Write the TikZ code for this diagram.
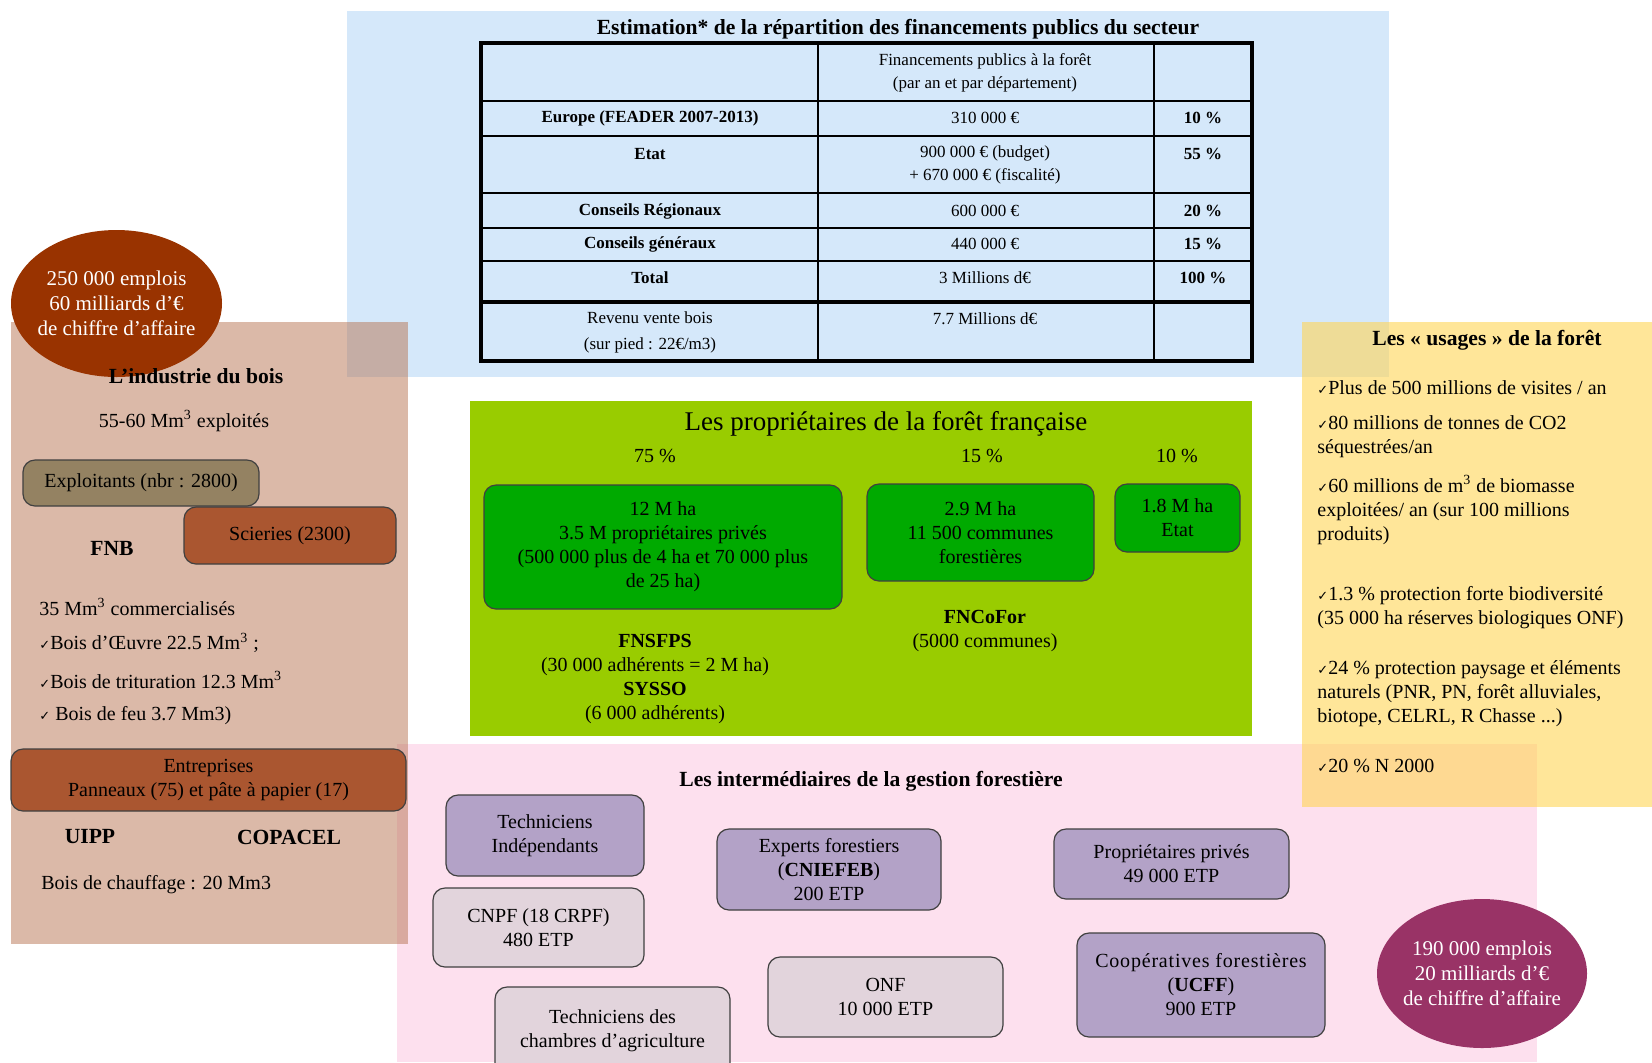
\documentclass[tikz,border=0pt]{standalone}
\usepackage{fontspec}
\setmainfont{Liberation Serif}
\newfontfamily\symfont{DejaVu Sans}
\usetikzlibrary{positioning, shapes.geometric}
\newcommand{\chk}{{\symfont\fontsize{6.5}{6.5}\selectfont ✓}}

\definecolor{fondbleu}{RGB}{213,232,250}
\definecolor{fondrose}{RGB}{253,224,238}
\definecolor{fondvert}{RGB}{153,204,0}
\definecolor{fondbrun}{RGB}{183,115,81}
\definecolor{fondjaune}{RGB}{255,213,85}
\definecolor{vertbox}{RGB}{0,170,0}
\definecolor{violetbox}{RGB}{179,162,199}
\definecolor{grisbox}{RGB}{226,212,220}
\definecolor{rouille}{RGB}{153,51,0}
\definecolor{brique}{RGB}{170,86,48}
\definecolor{taupe}{RGB}{148,130,98}
\definecolor{lie}{RGB}{153,51,102}

\begin{document}
\begin{tikzpicture}[x=0.5pt, y=-0.5pt,
  every node/.style={font=\fontsize{10}{12}\selectfont, align=center, inner sep=0pt},
  tabtxt/.style={font=\fontsize{8.5}{11.5}\selectfont},
  tabbold/.style={font=\fontsize{8.5}{11.5}\selectfont\bfseries},
  titre/.style={font=\fontsize{10.8}{13}\selectfont\bfseries},
  rbox/.style={draw=black!75, line width=0.6pt, rounded corners=6pt},
  bulle/.style={ellipse, inner sep=-10pt, text=white, font=\fontsize{10.5}{12.5}\selectfont}]

\useasboundingbox (0,0) rectangle (1652,1062);
\clip (0,0) rectangle (1652,1062);

% fonds
\fill [fondbleu] (347,11) rectangle (1389,377);
\fill [fondrose] (397,744) rectangle (1537,1062);
\fill [fondvert] (470,401) rectangle (1252,736);

% tableau des financements
\node (esttitre) at (898,29) [titre] {Estimation* de la répartition des financements publics du secteur};
\draw [line width=0.6pt] (818,43) -- (818,361);
\draw [line width=0.6pt] (1154,43) -- (1154,361);
\foreach \y in {101,136,193,228,261}
  \draw [line width=0.6pt] (481,\y) -- (1252,\y);
\draw [line width=2pt] (481,302) -- (1252,302);
\draw [line width=1.6pt] (481,43) rectangle (1252,361);

\node (enttete) at (985,73) [tabtxt] {Financements publics à la forêt\\(par an et par département)};
\node (europe) at (650,118) [tabbold] {Europe (FEADER 2007-2013)};
\node (europev) at (985,118) [tabtxt] {310 000 €};
\node (europep) at (1203,118) [tabbold] {10 \%};
\node (etat) at (650,154) [tabbold] {Etat};
\node (etatv) at (985,165) [tabtxt] {900 000 € (budget)\\+ 670 000 € (fiscalité)};
\node (etatp) at (1203,154) [tabbold] {55 \%};
\node (region) at (650,211) [tabbold] {Conseils Régionaux};
\node (regionv) at (985,211) [tabtxt] {600 000 €};
\node (regionp) at (1203,211) [tabbold] {20 \%};
\node (general) at (650,244) [tabbold] {Conseils généraux};
\node (generalv) at (985,244) [tabtxt] {440 000 €};
\node (generalp) at (1203,244) [tabbold] {15 \%};
\node (total) at (650,278) [tabbold] {Total};
\node (totalv) at (985,278) [tabtxt] {3 Millions d€};
\node (totalp) at (1203,278) [tabbold] {100 \%};
\node (revenu) at (650,332) [tabtxt, font=\fontsize{8.5}{13}\selectfont] {Revenu vente bois\\(sur pied : 22€/m3)};
\node (revenuv) at (985,319) [tabtxt] {7.7 Millions d€};

% industrie du bois
\fill [fondbrun, fill opacity=0.5] (11,322) rectangle (408,944);
\node (emplois1) at (116.5,303.5) [bulle, fill=rouille, minimum width=105.5pt, minimum height=73.5pt] {250 000 emplois\\60 milliards d’€\\de chiffre d’affaire};
\node (industrie) at (196,376) [titre] {L’industrie du bois};
\node (exploites) at (184,421) {55-60 Mm\textsuperscript{3} exploités};
\node (exploitants) at (141,483) [rbox, fill=taupe, minimum width=118pt, minimum height=23pt] {Exploitants (nbr : 2800)};
\node (scieries) at (290,535.5) [rbox, fill=brique, minimum width=106pt, minimum height=28.5pt] {Scieries (2300)};
\node (fnb) at (112,548) [titre] {FNB};
\node (commerce) at (39,607) [anchor=west] {35 Mm\textsuperscript{3} commercialisés};
\node (oeuvre) at (39,643) [anchor=west] {\chk Bois d’Œuvre 22.5 Mm\textsuperscript{3} ;};
\node (trituration) at (39,680) [anchor=west] {\chk Bois de trituration 12.3 Mm\textsuperscript{3}};
\node (feu) at (39,716) [anchor=west] {\chk\ Bois de feu 3.7 Mm3)};
\node (entreprises) at (208.5,780) [rbox, fill=brique, minimum width=197.5pt, minimum height=31pt] {Entreprises\\Panneaux (75) et pâte à papier (17)};
\node (uipp) at (90,837) [titre] {UIPP};
\node (copacel) at (289,837) [titre] {COPACEL};
\node (chauffage) at (41,885) [anchor=west] {Bois de chauffage : 20 Mm3};

% usages de la foret
\fill [fondjaune, fill opacity=0.6] (1302,322) rectangle (1652,807);
\node (usages) at (1487,340) [titre] {Les « usages » de la forêt};
\node (visites) at (1317,388) [anchor=west, align=left] {\chk Plus de 500 millions de visites / an};
\node (co2) at (1317,437) [anchor=west, align=left] {\chk 80 millions de tonnes de CO2\\séquestrées/an};
\node (biomasse) at (1317,510) [anchor=west, align=left] {\chk 60 millions de m\textsuperscript{3} de biomasse\\exploitées/ an (sur 100 millions\\produits)};
\node (biodiv) at (1317,607.5) [anchor=west, align=left] {\chk 1.3 \% protection forte biodiversité\\(35 000 ha réserves biologiques ONF)};
\node (paysage) at (1317,694) [anchor=west, align=left] {\chk 24 \% protection paysage et éléments\\naturels (PNR, PN, forêt alluviales,\\biotope, CELRL, R Chasse ...)};
\node (natura) at (1317,766) [anchor=west, align=left] {\chk 20 \% N 2000};

% proprietaires
\node (proprio) at (886,424) [font=\fontsize{13.5}{15}\selectfont] {Les propriétaires de la forêt française};
\node (pct75) at (655,456) {75 \%};
\node (pct15) at (982,456) {15 \%};
\node (pct10) at (1177,456) {10 \%};
\node (prives) at (663,547) [rbox, fill=vertbox, minimum width=179pt, minimum height=62pt] {12 M ha\\3.5 M propriétaires privés\\(500 000 plus de 4 ha et 70 000 plus\\de 25 ha)};
\node (communes) at (980.5,532.5) [rbox, fill=vertbox, minimum width=113.5pt, minimum height=48.5pt] {2.9 M ha\\11 500 communes\\forestières};
\node (domanial) at (1177.5,518) [rbox, fill=vertbox, minimum width=62.5pt, minimum height=34pt] {1.8 M ha\\Etat};
\node (fncofor) at (985,630.5) {\textbf{FNCoFor}\\(5000 communes)};
\node (fnsfps) at (655,678.5) {\textbf{FNSFPS}\\(30 000 adhérents = 2 M ha)\\\textbf{SYSSO}\\(6 000 adhérents)};

% intermediaires
\node (inter) at (871,781) [titre] {Les intermédiaires de la gestion forestière};
\node (techind) at (545,835.5) [rbox, fill=violetbox, minimum width=99pt, minimum height=40.5pt] {Techniciens\\Indépendants};
\node (experts) at (829,869.5) [rbox, fill=violetbox, minimum width=112pt, minimum height=40.5pt] {Experts forestiers\\(\textbf{CNIEFEB})\\200 ETP};
\node (propriprives) at (1171.5,864) [rbox, fill=violetbox, minimum width=117.5pt, minimum height=35pt] {Propriétaires privés\\49 000 ETP};
\node (coop) at (1201,985) [rbox, fill=violetbox, minimum width=124pt, minimum height=52pt] {\addfontfeatures{LetterSpace=4}Coopératives forestières\\(\textbf{UCFF})\\900 ETP};
\node (cnpf) at (538.5,927.5) [rbox, fill=grisbox, minimum width=105.5pt, minimum height=39.5pt] {CNPF (18 CRPF)\\480 ETP};
\node (onf) at (885.5,997) [rbox, fill=grisbox, minimum width=117.5pt, minimum height=40pt] {ONF\\10 000 ETP};
\node (chambres) at (612.5,1031) [rbox, fill=grisbox, minimum width=117.5pt, minimum height=44pt] {Techniciens des\\chambres d’agriculture};
\node (emplois2) at (1482,973.5) [bulle, fill=lie, minimum width=105pt, minimum height=74.5pt] {190 000 emplois\\20 milliards d’€\\de chiffre d’affaire};

\end{tikzpicture}
\end{document}
